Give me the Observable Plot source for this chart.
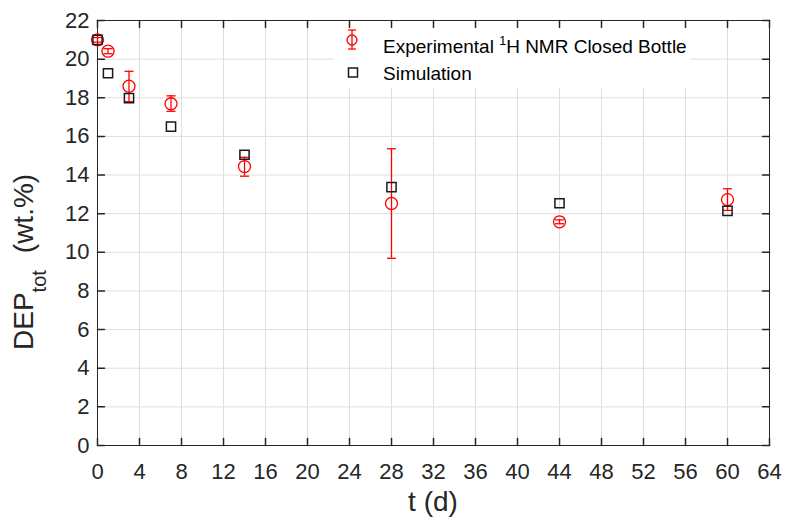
<!DOCTYPE html>
<html><head><meta charset="utf-8">
<script src="https://cdn.jsdelivr.net/npm/d3@7"></script>
<script src="https://cdn.jsdelivr.net/npm/@observablehq/plot@0.6"></script>
<style>body{margin:0;background:#fff;}</style>
</head><body><div id="chart"></div>
<script>
// ---- data ----
const days      = [0, 1, 3, 7, 14, 28, 44, 60];
const expValues = [21.0, 20.41, 18.6, 17.69, 14.44, 12.53, 11.58, 12.73];
const expLow    = [20.88, 20.28, 17.8, 17.3, 13.94, 9.69, 11.48, 12.17];
const expHigh   = [21.12, 20.54, 19.37, 18.1, 14.92, 15.36, 11.68, 13.29];
const simValues = [21.0, 19.27, 17.98, 16.51, 15.05, 13.37, 12.54, 12.15];
const xTicks = [0,4,8,12,16,20,24,28,32,36,40,44,48,52,56,60,64];
const yTicks = [0,2,4,6,8,10,12,14,16,18,20,22];
const expLabel = ["Experimental ", "1", "H NMR Closed Bottle"];
const simLabel = "Simulation";

const exp = days.map((t, i) => ({t, v: expValues[i], lo: expLow[i], hi: expHigh[i]}));
const sim = days.map((t, i) => ({t, v: simValues[i]}));

const RED = "#ff0000", INK = "#262626", GRID = "#dedede";
const spike = {draw(ctx, l) { ctx.moveTo(0, 0); ctx.lineTo(0, -l); }};
const capSymbol = {draw(ctx, size) { const w = Math.sqrt(size / Math.PI); ctx.moveTo(-w, 0); ctx.lineTo(w, 0); }};

const svg = Plot.plot({
  width: 785, height: 520,
  marginLeft: 97, marginRight: 16, marginTop: 20, marginBottom: 75,
  style: {fontFamily: "'Liberation Sans', Arial, sans-serif", fontSize: "22px", color: INK, background: "#fff"},
  x: {domain: [0, 64], axis: null},
  y: {domain: [0, 22], axis: null},
  marks: [
    Plot.gridX(xTicks, {stroke: GRID, strokeOpacity: 1}),
    Plot.gridY(yTicks, {stroke: GRID, strokeOpacity: 1}),
    Plot.frame({stroke: INK, strokeWidth: 1}),
    Plot.vector(xTicks, {x: d => d, frameAnchor: "bottom", rotate: 0, length: 7, anchor: "start", shape: spike, stroke: INK}),
    Plot.vector(xTicks, {x: d => d, frameAnchor: "top", rotate: 180, length: 7, anchor: "start", shape: spike, stroke: INK}),
    Plot.vector(yTicks, {y: d => d, frameAnchor: "left", rotate: 90, length: 7, anchor: "start", shape: spike, stroke: INK}),
    Plot.vector(yTicks, {y: d => d, frameAnchor: "right", rotate: -90, length: 7, anchor: "start", shape: spike, stroke: INK}),
    Plot.axisX({ticks: xTicks, tickSize: 0, tickPadding: 18, label: null, fill: INK, fontSize: 22, tickFormat: d => String(d)}),
    Plot.axisY({ticks: yTicks, tickSize: 0, tickPadding: 8, label: null, fill: INK, fontSize: 22, tickFormat: d => String(d)}),
    Plot.ruleX(exp, {x: "t", y1: "lo", y2: "hi", stroke: RED, strokeWidth: 1.3}),
    Plot.dot(exp, {x: "t", y: "lo", symbol: capSymbol, r: 4.5, stroke: RED, strokeWidth: 1.3}),
    Plot.dot(exp, {x: "t", y: "hi", symbol: capSymbol, r: 4.5, stroke: RED, strokeWidth: 1.3}),
    Plot.dot(exp, {x: "t", y: "v", r: 6, stroke: RED, fill: "none", strokeWidth: 1.3}),
    Plot.dot(sim, {x: "t", y: "v", symbol: "square", r: 5.2, stroke: "#1a1a1a", fill: "none", strokeWidth: 1.5})
  ]
});
document.getElementById("chart").appendChild(svg);

const s = d3.select(svg);
// y-axis label with subscript
const yl = s.append("text")
  .attr("transform", "translate(33,350) rotate(-90)")
  .attr("fill", INK).attr("font-size", 28).attr("text-anchor", "start");
yl.append("tspan").text("DEP");
yl.append("tspan").attr("font-size", 20).attr("dy", 13).text("tot");
yl.append("tspan").attr("dy", -13).attr("dx", 17).text("(wt.%)");
// x-axis label
s.append("text").attr("x", 433).attr("y", 511).attr("text-anchor", "middle")
  .attr("fill", INK).attr("font-size", 28).text("t (d)");

// legend
const lg = s.append("g").attr("text-anchor", "start");
lg.append("rect").attr("x", 333).attr("y", 28).attr("width", 358).attr("height", 60).attr("fill", "#fff");
lg.append("line").attr("x1", 352).attr("x2", 352).attr("y1", 30).attr("y2", 49).attr("stroke", RED).attr("stroke-width", 1.3);
lg.append("line").attr("x1", 348).attr("x2", 356).attr("y1", 30).attr("y2", 30).attr("stroke", RED).attr("stroke-width", 1.3);
lg.append("line").attr("x1", 348).attr("x2", 356).attr("y1", 49).attr("y2", 49).attr("stroke", RED).attr("stroke-width", 1.3);
lg.append("circle").attr("cx", 352).attr("cy", 40).attr("r", 5).attr("fill", "none").attr("stroke", RED).attr("stroke-width", 1.3);
lg.append("rect").attr("x", 348.5).attr("y", 68).attr("width", 9).attr("height", 9).attr("fill", "none").attr("stroke", "#1a1a1a").attr("stroke-width", 1.5);
const t1 = lg.append("text").attr("x", 383).attr("y", 53).attr("font-size", 19).attr("fill", "#000").attr("text-anchor", "start");
t1.append("tspan").text(expLabel[0]);
t1.append("tspan").attr("font-size", 12.5).attr("dy", -8).text(expLabel[1]);
t1.append("tspan").attr("dy", 8).text(expLabel[2]);
lg.append("text").attr("x", 383).attr("y", 80).attr("font-size", 19).attr("fill", "#000").attr("text-anchor", "start").text(simLabel);
</script>
</body></html>
